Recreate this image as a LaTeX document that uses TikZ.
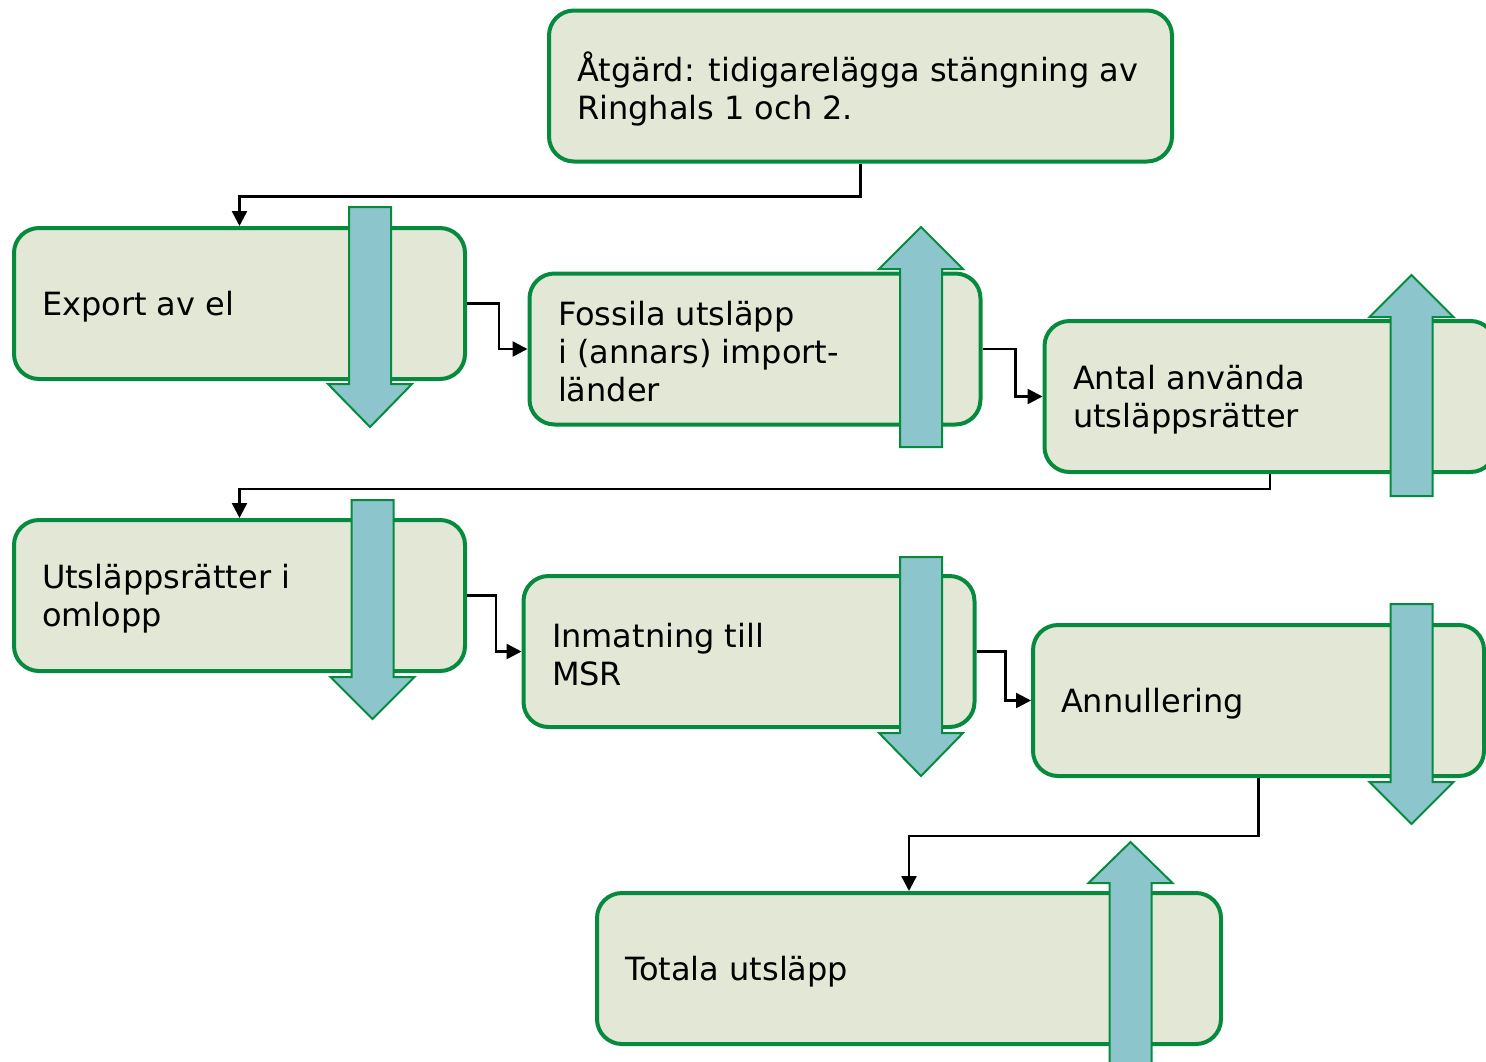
\documentclass[tikz,border=0pt]{standalone}
\usepackage{fontspec}
\setmainfont{DejaVu Sans}
\usetikzlibrary{arrows.meta}
\definecolor{boxfill}{RGB}{226,231,214}
\definecolor{boxline}{RGB}{6,139,62}
\definecolor{arrfill}{RGB}{140,197,204}
\newcommand\boxtext[2]{\raisebox{0pt}[\dimexpr\height+6pt\relax][\depth]{\parbox{#1}{\raggedright #2}}}
\tikzset{
  flowbox/.style={draw=boxline, fill=boxfill, line width=4pt, rounded corners=25pt,
    minimum width=451pt, minimum height=151pt, inner xsep=28pt, inner ysep=0pt,
    font=\fontsize{32}{38}\selectfont},
  widebox/.style={flowbox, minimum width=623pt},
  conn/.style={line width=2.5pt, -{Triangle[length=15pt,width=15pt]}},
  blockarr/.style={draw=boxline, fill=arrfill, line width=2pt, line join=miter},
}
% down arrow: xc, shaft top, head base, tip
\newcommand\dnarr[4]{\draw[blockarr] (#1-21,#2) -- (#1+21,#2) -- (#1+21,#3) -- (#1+42,#3) -- (#1,#4) -- (#1-42,#3) -- (#1-21,#3) -- cycle;}
% up arrow: xc, shaft bottom, head base, tip
\newcommand\uparr[4]{\draw[blockarr] (#1-21,#2) -- (#1+21,#2) -- (#1+21,#3) -- (#1+42,#3) -- (#1,#4) -- (#1-42,#3) -- (#1-21,#3) -- cycle;}
\begin{document}
\begin{tikzpicture}[x=1pt,y=-1pt]
\useasboundingbox (0,0) rectangle (1486,1061);
\begin{scope}
\clip (0,0) rectangle (1486,1061);
\node[widebox] (b0) at (860.5,86) {\boxtext{567pt}{Åtgärd: tidigarelägga stängning av\\Ringhals 1 och 2.}};
\node[flowbox] (b1) at (239.5,303.5) {\boxtext{395pt}{Export av el}};
\node[flowbox] (b2) at (755,349) {\boxtext{394pt}{Fossila utsläpp\\i (annars) import-\\länder}};
\node[flowbox] (b3) at (1270,396.5) {\boxtext{394pt}{Antal använda\\utsläppsrätter}};
\node[flowbox] (b4) at (239.5,595.5) {\boxtext{395pt}{Utsläppsrätter i\\omlopp}};
\node[flowbox] (b5) at (749,651.5) {\boxtext{394pt}{Inmatning till\\MSR}};
\node[flowbox] (b6) at (1258.5,700.5) {\boxtext{395pt}{Annullering}};
\node[widebox] (b7) at (909,968.5) {\boxtext{568pt}{Totala utsläpp}};

\draw[conn] (b0.south) -- ++(0,33) -| (b1.north);
\draw[conn] (b1.east) -- ++(32,0) |- (b2.west);
\draw[conn] (b2.east) -- ++(33,0) |- (b3.west);
\draw[conn] (b3.south) -- ++(0,15) -| (b4.north);
\draw[conn] (b4.east) -- ++(29,0) |- (b5.west);
\draw[conn] (b5.east) -- ++(29,0) |- (b6.west);
\draw[conn] (b6.south) -- ++(0,58) -| (b7.north);

\dnarr{370}{207}{384}{427}
\uparr{921}{447}{269}{227}
\uparr{1411.5}{496}{317}{275}
\dnarr{372.5}{500}{677}{719}
\dnarr{921}{557}{733}{776}
\dnarr{1411.5}{604}{782}{824}
\uparr{1130.5}{1070}{883}{842}
\end{scope}
\end{tikzpicture}
\end{document}
